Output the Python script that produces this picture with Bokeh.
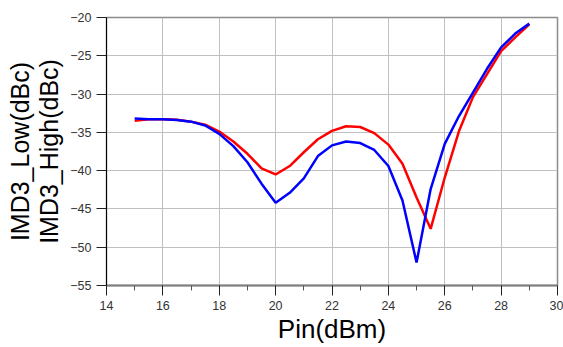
from bokeh.plotting import figure
from bokeh.models import Range1d, FixedTicker
from bokeh.embed import file_html
from bokeh.resources import INLINE

pin = [15, 15.5, 16, 16.5, 17, 17.5, 18, 18.5, 19, 19.5, 20, 20.5, 21, 21.5,
       22, 22.5, 23, 23.5, 24, 24.5, 25, 25.5, 26, 26.5, 27, 27.5, 28, 28.5, 29]
imd3_low = [-33.5, -33.3, -33.3, -33.35, -33.6, -34.0, -34.9, -36.2, -37.8, -39.7,
            -40.5, -39.4, -37.6, -35.9, -34.8, -34.2, -34.3, -35.1, -36.6, -39.1,
            -43.5, -47.6, -40.9, -34.9, -30.4, -27.4, -24.4, -22.6, -20.9]
imd3_high = [-33.2, -33.3, -33.3, -33.4, -33.6, -34.1, -35.2, -36.8, -38.9, -41.7,
             -44.2, -42.9, -41.0, -38.1, -36.7, -36.2, -36.4, -37.3, -39.4, -43.9,
             -52.0, -42.4, -36.5, -32.9, -29.8, -26.7, -23.9, -22.1, -20.8]
x_ticks = [14, 16, 18, 20, 22, 24, 26, 28, 30]
y_ticks = [-55, -50, -45, -40, -35, -30, -25, -20]

FONT = "Liberation Sans"

p = figure(width=563, height=347, output_backend="svg", toolbar_location=None,
           x_range=Range1d(14, 30), y_range=Range1d(-55, -20),
           min_border_left=106, min_border_right=6, min_border_top=17, min_border_bottom=62)
p.background_fill_color = "white"
p.border_fill_color = "white"
p.outline_line_color = "#8c8c8c"
p.outline_line_width = 1.5

p.line(pin, imd3_low, line_color="#ff0000", line_width=2.5)
p.line(pin, imd3_high, line_color="#0000ff", line_width=2.5)

p.xaxis.ticker = FixedTicker(ticks=x_ticks, minor_ticks=list(range(15, 30, 2)))
p.yaxis.ticker = FixedTicker(ticks=y_ticks)

for ax in (p.xaxis[0], p.yaxis[0]):
    ax.major_tick_out = 10
    ax.major_tick_in = 0
    ax.major_label_text_font = FONT
    ax.major_label_text_font_size = "12.5px"
    ax.major_label_text_color = "#333333"
    ax.major_label_standoff = 5
    ax.axis_label_text_font = FONT
    ax.axis_label_text_font_style = "normal"
    ax.axis_label_text_color = "#000000"

p.xaxis.minor_tick_out = 5
p.xaxis.minor_tick_in = 0
p.xaxis.minor_tick_line_color = "#555555"
p.xaxis.axis_line_color = "#7f7f7f"
p.xaxis.axis_line_width = 2
p.xaxis.major_tick_line_color = "#222222"
p.xaxis.axis_label = "Pin(dBm)"
p.xaxis.axis_label_text_font_size = "26px"
p.xaxis.axis_label_standoff = 1

p.yaxis.minor_tick_line_color = None
p.yaxis.axis_line_color = "#000000"
p.yaxis.major_tick_line_color = "#222222"
p.yaxis.axis_label = "IMD3_Low(dBc)\nIMD3_High(dBc)"
p.yaxis.axis_label_text_font_size = "25px"
p.yaxis.axis_label_standoff = 4
p.yaxis.axis_label_text_line_height = 1.05

p.xgrid.grid_line_color = "#c0c0c0"
p.ygrid.grid_line_color = "#c0c0c0"
p.xgrid.grid_line_width = 1
p.ygrid.grid_line_width = 1

open("out.html", "w").write(file_html(p, INLINE))
